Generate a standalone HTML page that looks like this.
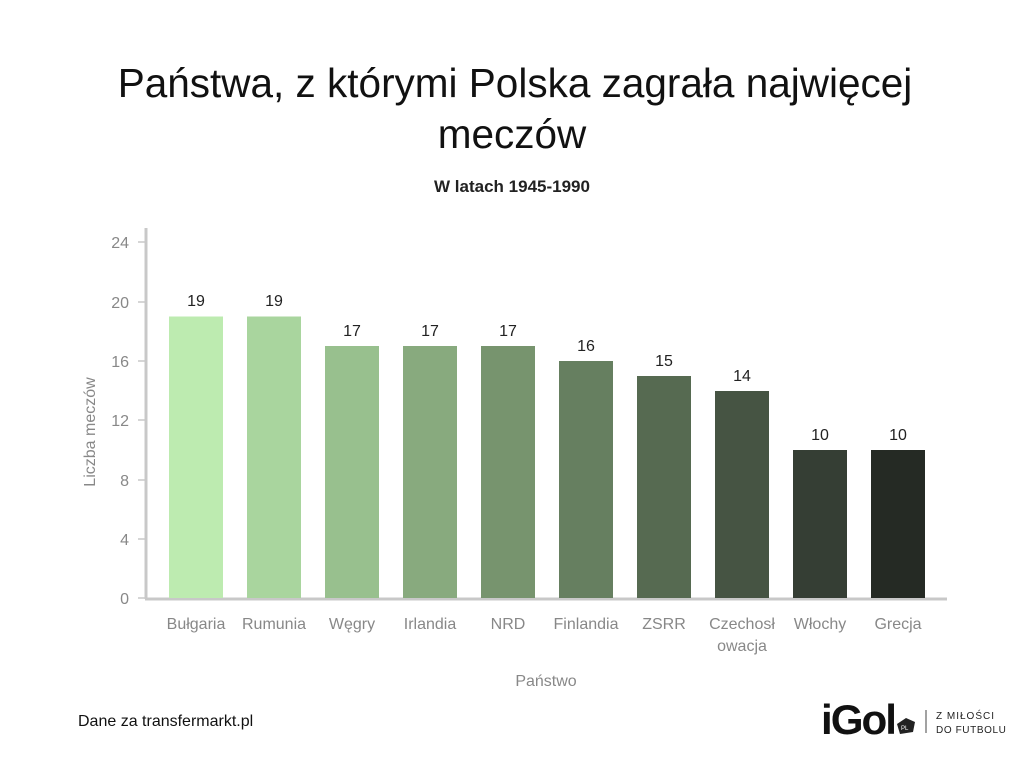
<!DOCTYPE html>
<html><head><meta charset="utf-8"><style>
body{margin:0;background:#fff;}
svg{display:block;font-family:"Liberation Sans",sans-serif;}
</style></head><body>
<svg width="1024" height="768" viewBox="0 0 1024 768">
<rect width="1024" height="768" fill="#fff"/>
<text x="515" y="97" text-anchor="middle" font-size="40.5" fill="#111">Państwa, z którymi Polska zagrała najwięcej</text>
<text x="512" y="148" text-anchor="middle" font-size="40.5" fill="#111">meczów</text>
<text x="512" y="192" text-anchor="middle" font-size="17" font-weight="bold" fill="#222">W latach 1945-1990</text>
<g stroke="#c8c8c8" stroke-width="3"><line x1="146" y1="228" x2="146" y2="599"/><line x1="145" y1="599" x2="947" y2="599"/></g>
<g stroke="#c8c8c8" stroke-width="1.5">
<line x1="138" y1="242" x2="146" y2="242"/><line x1="138" y1="302" x2="146" y2="302"/><line x1="138" y1="361" x2="146" y2="361"/><line x1="138" y1="420" x2="146" y2="420"/><line x1="138" y1="480" x2="146" y2="480"/><line x1="138" y1="539" x2="146" y2="539"/><line x1="138" y1="598" x2="146" y2="598"/></g>
<g font-size="16" fill="#888" text-anchor="end">
<text x="129" y="248">24</text><text x="129" y="308">20</text><text x="129" y="367">16</text><text x="129" y="426">12</text><text x="129" y="486">8</text><text x="129" y="545">4</text><text x="129" y="604">0</text></g>
<text transform="translate(95,432) rotate(-90)" text-anchor="middle" font-size="16" fill="#888">Liczba meczów</text>
<g>
<rect x="169" y="316.5" width="54" height="281.5" fill="#bdebb0"/>
<rect x="247" y="316.5" width="54" height="281.5" fill="#a9d59e"/>
<rect x="325" y="346" width="54" height="252" fill="#98c08e"/>
<rect x="403" y="346" width="54" height="252" fill="#88aa7e"/>
<rect x="481" y="346" width="54" height="252" fill="#77946e"/>
<rect x="559" y="361" width="54" height="237" fill="#667f60"/>
<rect x="637" y="376" width="54" height="222" fill="#566a51"/>
<rect x="715" y="391" width="54" height="207" fill="#465443"/>
<rect x="793" y="450" width="54" height="148" fill="#353e34"/>
<rect x="871" y="450" width="54" height="148" fill="#252a24"/>
</g>
<g font-size="16" fill="#222" text-anchor="middle">
<text x="196" y="306">19</text><text x="274" y="306">19</text><text x="352" y="336">17</text><text x="430" y="336">17</text><text x="508" y="336">17</text><text x="586" y="351">16</text><text x="664" y="366">15</text><text x="742" y="381">14</text><text x="820" y="440">10</text><text x="898" y="440">10</text></g>
<g font-size="16" fill="#888" text-anchor="middle">
<text x="196" y="629">Bułgaria</text><text x="274" y="629">Rumunia</text><text x="352" y="629">Węgry</text><text x="430" y="629">Irlandia</text><text x="508" y="629">NRD</text><text x="586" y="629">Finlandia</text><text x="664" y="629">ZSRR</text><text x="742" y="629">Czechosł</text><text x="742" y="651">owacja</text><text x="820" y="629">Włochy</text><text x="898" y="629">Grecja</text>
<text x="546" y="686">Państwo</text></g>
<text x="78" y="726" font-size="16" fill="#111">Dane za transfermarkt.pl</text>
<text x="821" y="734" font-size="42" font-weight="bold" fill="#111" letter-spacing="-2" textLength="74" lengthAdjust="spacingAndGlyphs">iGol</text>
<polygon points="906,718 915,722 913,732 900,734 897,724" fill="#222"/>
<text x="901" y="730" font-size="6" fill="#fff">PL</text>
<line x1="926" y1="710" x2="926" y2="733" stroke="#444" stroke-width="1"/>
<text x="936" y="719" font-size="10" fill="#222" letter-spacing="1">Z MIŁOŚCI</text>
<text x="936" y="733" font-size="10" fill="#222" letter-spacing="0.6">DO FUTBOLU</text>
</svg>
</body></html>
